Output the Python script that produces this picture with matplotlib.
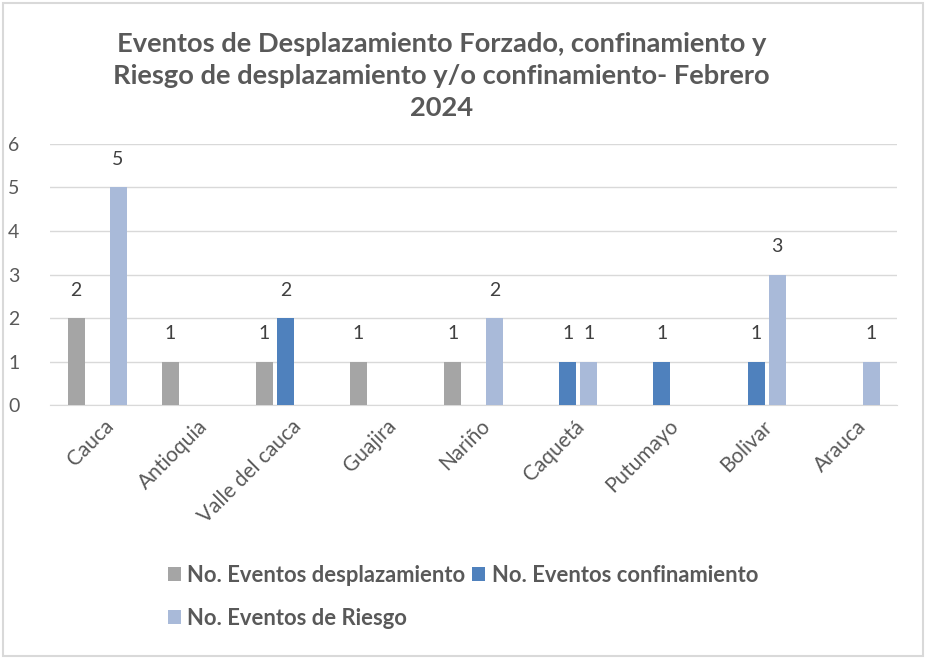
import numpy as np
import matplotlib.pyplot as plt
from matplotlib.patches import Rectangle
from matplotlib.transforms import ScaledTranslation

plt.rcParams['font.family'] = ['Lato', 'DejaVu Sans']

departamentos = ['Cauca', 'Antioquia', 'Valle del cauca', 'Guajira', 'Nariño',
                 'Caquetá', 'Putumayo', 'Bolivar', 'Arauca']
desplazamiento = [2, 1, 1, 1, 1, 0, 0, 0, 0]
confinamiento = [0, 0, 2, 0, 0, 1, 1, 1, 0]
riesgo = [5, 0, 0, 0, 2, 1, 0, 3, 1]

series = [
    ('No. Eventos desplazamiento', desplazamiento, '#A5A5A5'),
    ('No. Eventos confinamiento', confinamiento, '#4F81BD'),
    ('No. Eventos de Riesgo', riesgo, '#A9BAD9'),
]

txt = '#595959'

fig = plt.figure(figsize=(9.26, 6.59), dpi=100)
ax = fig.add_axes([0.054, 0.3854, 0.915, 0.3961])

x = np.arange(len(departamentos))
w = 0.18
step = 0.223
handles = {}
for i, (name, vals, col) in enumerate(series):
    pos = x + (i - 1) * step
    h = ax.bar(pos, vals, w, color=col, label=name, zorder=3)
    handles[name] = h
    for px, v in zip(pos, vals):
        if v > 0:
            ax.annotate(str(v), (px, v), xytext=(0, 14), textcoords='offset points',
                        ha='center', va='bottom', fontsize=14, color='#404040')

ax.set_xlim(-0.5, len(departamentos) - 0.5)
ax.set_ylim(0, 6)
ax.set_yticks(range(7))
ax.grid(axis='y', color='#D9D9D9', linewidth=1, zorder=0)
for s in ['top', 'right', 'left']:
    ax.spines[s].set_visible(False)
ax.spines['bottom'].set_color('#D9D9D9')
ax.tick_params(axis='both', length=0, labelsize=14, colors=txt)
ax.tick_params(axis='y', pad=22)
ax.tick_params(axis='x', pad=8, labelsize=15)
ax.set_xticks(x)
ax.set_xticklabels(departamentos, rotation=45, ha='right', rotation_mode='anchor')
shift = ScaledTranslation(6 / 100, 0, fig.dpi_scale_trans)
for lbl in ax.get_xticklabels():
    lbl.set_transform(lbl.get_transform() + shift)

fig.suptitle('Eventos de Desplazamiento Forzado, confinamiento y\n'
             'Riesgo de desplazamiento y/o confinamiento- Febrero\n2024',
             x=0.477, y=0.952, fontsize=19.6, fontweight='bold', color=txt, linespacing=1.42)

order = ['No. Eventos desplazamiento', 'No. Eventos de Riesgo', 'No. Eventos confinamiento']
leg = fig.legend([handles[n] for n in order], order, ncol=2, loc='center',
                 bbox_to_anchor=(0.5, 0.094), frameon=False, handlelength=0.6,
                 handleheight=0.6, handletextpad=0.3, columnspacing=0.3,
                 labelspacing=1.0, prop={'size': 15.8, 'weight': 'bold'})
for t in leg.get_texts():
    t.set_color(txt)

fig.patches.append(Rectangle((0.003, 0.005), 0.994, 0.99, transform=fig.transFigure,
                             fill=False, edgecolor='#D9D9D9', linewidth=1.5))

fig.savefig('out.png', dpi=100)
